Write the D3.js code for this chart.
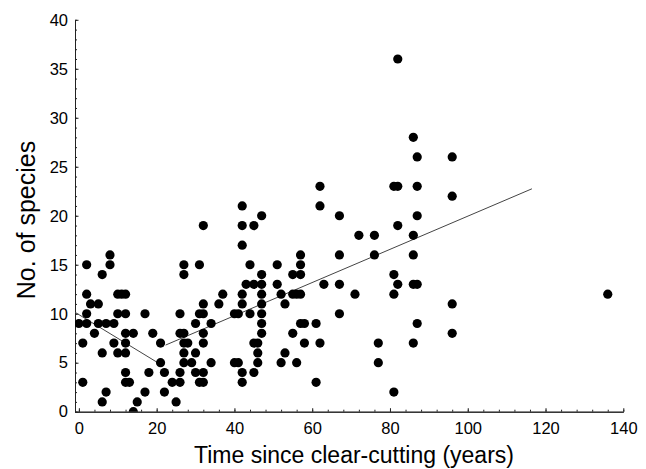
<!DOCTYPE html>
<html>
<head>
<meta charset="utf-8">
<script src="https://cdn.jsdelivr.net/npm/d3@7"></script>
<style>
  body { margin: 0; background: #fff; }
  text { font-family: Arial, "Liberation Sans", sans-serif; fill: #000; }
</style>
</head>
<body>
<svg id="chart" width="646" height="469"></svg>
<script>

// one entry per site: time since clear-cutting and number of species
var years = [
  0, 1, 1, 2, 2, 2, 2, 3, 4, 5, 5, 6, 6, 6, 7, 7, 8, 8, 9, 9,
  10, 10, 10, 11, 12, 12, 12, 12, 12, 12, 12, 13, 14, 14, 15, 17, 17, 18, 19,
  21, 21, 22, 22, 24, 25, 26, 26, 26, 26, 27, 27, 27, 27, 27, 27, 28, 29,
  30, 30, 30, 31, 31, 31, 32, 32, 32, 32, 32, 32, 32, 34, 34, 36, 37,
  40, 40, 41, 41, 42, 42, 42, 42, 42, 42, 42, 43, 44, 44, 45, 45, 45, 45,
  46, 46, 46, 47, 47, 47, 47, 47, 47, 47, 47,
  51, 51, 52, 52, 53, 53, 55, 55, 55, 56, 56, 57, 57, 57, 57, 57, 58, 58,
  61, 61, 62, 62, 62, 63, 67, 67, 67, 67, 71, 72, 76, 76, 77, 77,
  81, 81, 81, 81, 82, 82, 82, 82, 86, 86, 86, 86, 86, 87, 87, 87, 87, 87,
  96, 96, 96, 96, 136
];
var species = [
  9, 7, 3, 15, 12, 10, 9, 11, 8, 11, 9, 14, 6, 1, 9, 2, 16, 15, 9, 7,
  12, 10, 6, 12, 12, 10, 8, 7, 6, 4, 3, 3, 8, 0, 1, 10, 2, 4, 8,
  7, 5, 4, 2, 3, 1, 10, 8, 4, 3, 15, 14, 8, 7, 6, 5, 7, 5,
  9, 6, 4, 15, 10, 3, 19, 11, 10, 8, 7, 4, 3, 9, 5, 11, 12,
  10, 5, 10, 5, 21, 19, 17, 12, 11, 4, 3, 13, 15, 10, 19, 13, 7, 4,
  7, 6, 5, 20, 14, 13, 12, 11, 10, 9, 8,
  15, 13, 12, 5, 11, 6, 14, 12, 8, 12, 5, 16, 15, 14, 12, 9, 9, 7,
  9, 3, 23, 21, 7, 13, 20, 16, 13, 10, 12, 18, 18, 16, 7, 5,
  23, 14, 12, 2, 36, 23, 19, 13, 28, 18, 16, 13, 7, 26, 23, 20, 13, 9,
  26, 22, 11, 8, 12
];

// two fitted segments (before / after the break)
var fitYears = [[-1, 20.5], [22.3, 116.5]];
var fitSpecies = [[10.15, 4.95], [6.8, 22.75]];

var xTicks = [0, 20, 40, 60, 80, 100, 120, 140];
var yTicks = [0, 5, 10, 15, 20, 25, 30, 35, 40];

var svg = d3.select("#chart");

svg.append("rect")
  .attr("width", 646)
  .attr("height", 469)
  .attr("fill", "white");

var x = d3.scaleLinear().domain([-1, 140]).range([75, 623.3]);
var y = d3.scaleLinear().domain([0, 40]).range([411.7, 19.8]);

svg.append("clipPath")
  .attr("id", "plot-clip")
  .append("rect")
  .attr("x", x.range()[0])
  .attr("y", y.range()[1])
  .attr("width", x.range()[1] - x.range()[0])
  .attr("height", y.range()[0] - y.range()[1]);

// minor ticks first, then the labelled axes on top
svg.append("g")
  .attr("class", "axis")
  .attr("transform", `translate(0, ${y(0)})`)
  .call(d3.axisBottom(x).tickValues(d3.range(0, 141, 4)).tickSize(-2).tickSizeOuter(0).tickFormat(""));

svg.append("g")
  .attr("class", "axis")
  .attr("transform", `translate(${x(-1)}, 0)`)
  .call(d3.axisLeft(y).tickValues(d3.range(0, 41, 1)).tickSize(-2).tickSizeOuter(0).tickFormat(""));

svg.append("g")
  .attr("class", "axis")
  .attr("transform", `translate(0, ${y(0)})`)
  .call(d3.axisBottom(x).tickValues(xTicks).tickSize(-3.5).tickSizeOuter(0).tickPadding(11));

svg.append("g")
  .attr("class", "axis")
  .attr("transform", `translate(${x(-1)}, 0)`)
  .call(d3.axisLeft(y).tickValues(yTicks).tickSize(-3.5).tickSizeOuter(0).tickPadding(7));

svg.selectAll(".axis path, .axis line")
  .attr("stroke", "#222")
  .attr("stroke-width", 1);

svg.selectAll(".axis text")
  .attr("font-family", "Arial, 'Liberation Sans', sans-serif")
  .attr("font-size", 16.5)
  .attr("fill", "#000");

var plot = svg.append("g").attr("clip-path", "url(#plot-clip)");

plot.selectAll("line.fit")
  .data(fitYears)
  .enter()
  .append("line")
  .attr("class", "fit")
  .attr("x1", d => x(d[0]))
  .attr("x2", d => x(d[1]))
  .attr("y1", (d, i) => y(fitSpecies[i][0]))
  .attr("y2", (d, i) => y(fitSpecies[i][1]))
  .attr("stroke", "#444")
  .attr("stroke-width", 1);

plot.selectAll("circle")
  .data(years)
  .enter()
  .append("circle")
  .attr("cx", d => x(d))
  .attr("cy", (d, i) => y(species[i]))
  .attr("r", 4.6)
  .attr("fill", "black");

// axis titles
svg.append("text")
  .attr("x", 354)
  .attr("y", 463)
  .attr("text-anchor", "middle")
  .attr("font-size", 23)
  .text("Time since clear-cutting (years)");

svg.append("text")
  .attr("transform", "translate(35, 220) rotate(-90)")
  .attr("text-anchor", "middle")
  .attr("font-size", 25)
  .text("No. of species");

</script>
</body>
</html>
